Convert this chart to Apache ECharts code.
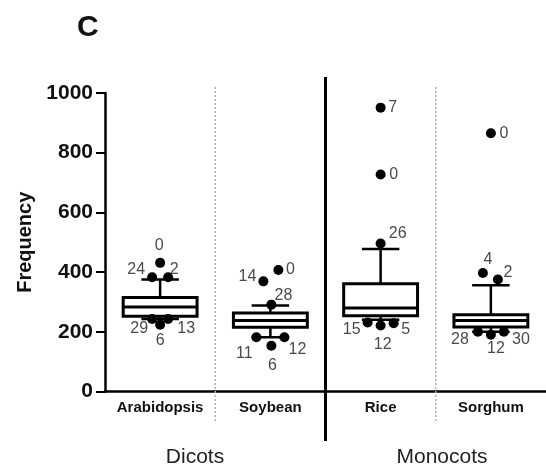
<!DOCTYPE html>
<html>
<head>
<meta charset="utf-8">
<script src="https://cdn.jsdelivr.net/npm/echarts@6/dist/echarts.min.js"></script>
<style>html,body{margin:0;padding:0;background:#fff}#c{width:546px;height:466px}</style>
</head>
<body>
<div id="c"></div>
<script>
// ---- data ----
const categories = ['Arabidopsis', 'Soybean', 'Rice', 'Sorghum'];
const groups = ['Dicots', 'Monocots'];
const yTicks = [0, 200, 400, 600, 800, 1000];
// [min whisker, Q1, median, Q3, max whisker]
const boxArabidopsis = [243, 252, 283, 315, 375];
const boxSoybean = [182, 215, 238, 263, 288];
const boxRice = [240, 254, 280, 361, 477];
const boxSorghum = [200, 216, 238, 257, 356];
// outliers: values and their labels
const outArabidopsis = [431, 383, 383, 243, 243, 224];
const labArabidopsis = ['0', '24', '2', '29', '13', '6'];
const outSoybean = [407, 369, 291, 182, 182, 153];
const labSoybean = ['0', '14', '28', '11', '12', '6'];
const outRice = [951, 727, 496, 231, 221, 229];
const labRice = ['7', '0', '26', '15', '12', '5'];
const outSorghum = [865, 397, 375, 200, 190, 200];
const labSorghum = ['0', '4', '2', '28', '12', '30'];

// ---- style (jitter of dots and label placement, px) ----
const dotShift = [
  [0, -8, 8, -8, 8, 0],
  [8, -7, 1, -14, 14, 1],
  [0, 0, 0, -13, 0, 13],
  [0, -8, 7, -13, 0, 13]
];
const labelShift = [
  [[-1,-17],[-16,-8],[6,-8],[-13,10],[18,10],[0,16]],
  [[12,0],[-16,-5],[12,-9],[-12,16],[13,12],[1,20]],
  [[12,0],[13,0],[17,-10],[-16,7],[2,19],[12,6]],
  [[13,0],[5,-13],[10,-7],[-18,8],[5,14],[17,8]]
];

const boxes = [boxArabidopsis, boxSoybean, boxRice, boxSorghum];
const outs = [outArabidopsis, outSoybean, outRice, outSorghum];
const labs = [labArabidopsis, labSoybean, labRice, labSorghum];

const FONT = 'Liberation Sans, Arial, sans-serif';
const chart = echarts.init(document.getElementById('c'), null, {renderer: 'canvas'});

const boxData = boxes.map((b, i) => [i].concat(b));
const dotData = [];
outs.forEach((arr, i) => {
  arr.forEach((v, j) => {
    dotData.push({
      value: [i, v],
      symbolOffset: [dotShift[i][j], 0],
      label: {formatter: labs[i][j], offset: labelShift[i][j]}
    });
  });
});

const option = {
  animation: false,
  title: {
    text: 'C', left: 72, top: 8,
    textStyle: {fontFamily: FONT, fontWeight: 'bold', fontSize: 30, color: '#111'}
  },
  grid: {left: 105, top: 93, width: 452, height: 298.5, containLabel: false},
  xAxis: {
    type: 'category',
    data: categories,
    boundaryGap: true,
    axisLine: {lineStyle: {color: '#000', width: 2.5}},
    axisTick: {alignWithLabel: true, length: 6, lineStyle: {color: '#000', width: 2}},
    axisLabel: {interval: 0, fontFamily: FONT, fontWeight: 'bold', fontSize: 15, color: '#111', margin: 9},
    splitLine: {show: false}
  },
  yAxis: {
    type: 'value', min: 0, max: 1000, interval: 200,
    name: 'Frequency', nameLocation: 'middle', nameGap: 70, nameRotate: 90,
    nameTextStyle: {fontFamily: FONT, fontWeight: 'bold', fontSize: 20, color: '#111'},
    axisLine: {show: true, lineStyle: {color: '#000', width: 2.5}},
    axisTick: {show: true, length: 9, lineStyle: {color: '#000', width: 2}},
    axisLabel: {fontFamily: FONT, fontWeight: 'bold', fontSize: 21, color: '#111', margin: 12,
      formatter: v => yTicks.includes(v) ? String(v) : ''},
    splitLine: {show: false}
  },
  series: [
    {
      type: 'custom',
      data: boxData,
      encode: {x: 0, y: [1, 2, 3, 4, 5]},
      z: 2,
      renderItem: function (params, api) {
        const idx = api.value(0);
        const mn = api.value(1), q1 = api.value(2), md = api.value(3), q3 = api.value(4), mx = api.value(5);
        const cx = api.coord([idx, 0])[0];
        const band = api.size([1, 0])[0];
        const bw = band * 0.67, cw = band * 0.34;
        const y = v => api.coord([idx, v])[1];
        const ls = {stroke: '#000', lineWidth: 2.5, fill: null};
        return {
          type: 'group',
          children: [
            {type: 'line', shape: {x1: cx, y1: y(q3), x2: cx, y2: y(mx)}, style: ls},
            {type: 'line', shape: {x1: cx - cw / 2, y1: y(mx), x2: cx + cw / 2, y2: y(mx)}, style: ls},
            {type: 'line', shape: {x1: cx, y1: y(q1), x2: cx, y2: y(mn)}, style: ls},
            {type: 'line', shape: {x1: cx - cw / 2, y1: y(mn), x2: cx + cw / 2, y2: y(mn)}, style: ls},
            {type: 'rect', shape: {x: cx - bw / 2, y: y(q3), width: bw, height: y(q1) - y(q3)},
              style: {fill: '#fff', stroke: '#000', lineWidth: 3}},
            {type: 'line', shape: {x1: cx - bw / 2, y1: y(md), x2: cx + bw / 2, y2: y(md)},
              style: {stroke: '#000', lineWidth: 3}}
          ]
        };
      }
    },
    {
      type: 'scatter',
      data: dotData,
      z: 5,
      symbol: 'circle',
      symbolSize: 10,
      itemStyle: {color: '#000', opacity: 1},
      label: {show: true, position: 'inside', fontFamily: FONT, fontSize: 16, color: '#4a4a4a'}
    }
  ]
};
chart.setOption(option);

// separators between categories, computed from the axis
const cx = categories.map((c, i) => chart.convertToPixel({xAxisIndex: 0}, i));
const bounds = [(cx[0] + cx[1]) / 2, (cx[1] + cx[2]) / 2, (cx[2] + cx[3]) / 2];
chart.setOption({
  graphic: [
    {type: 'line', shape: {x1: bounds[0], y1: 87, x2: bounds[0], y2: 423},
      style: {stroke: '#b0b0b0', lineWidth: 1.5, lineDash: [2, 2]}, z: 1},
    {type: 'line', shape: {x1: bounds[2], y1: 87, x2: bounds[2], y2: 423},
      style: {stroke: '#b0b0b0', lineWidth: 1.5, lineDash: [2, 2]}, z: 1},
    {type: 'line', shape: {x1: bounds[1], y1: 77, x2: bounds[1], y2: 441},
      style: {stroke: '#000', lineWidth: 3}, z: 10},
    {type: 'text', x: 195, y: 457,
      style: {text: groups[0], fontFamily: FONT, fontSize: 21, fill: '#222', align: 'center', verticalAlign: 'middle'}},
    {type: 'text', x: 442, y: 457,
      style: {text: groups[1], fontFamily: FONT, fontSize: 21, fill: '#222', align: 'center', verticalAlign: 'middle'}}
  ]
});
</script>
</body>
</html>
